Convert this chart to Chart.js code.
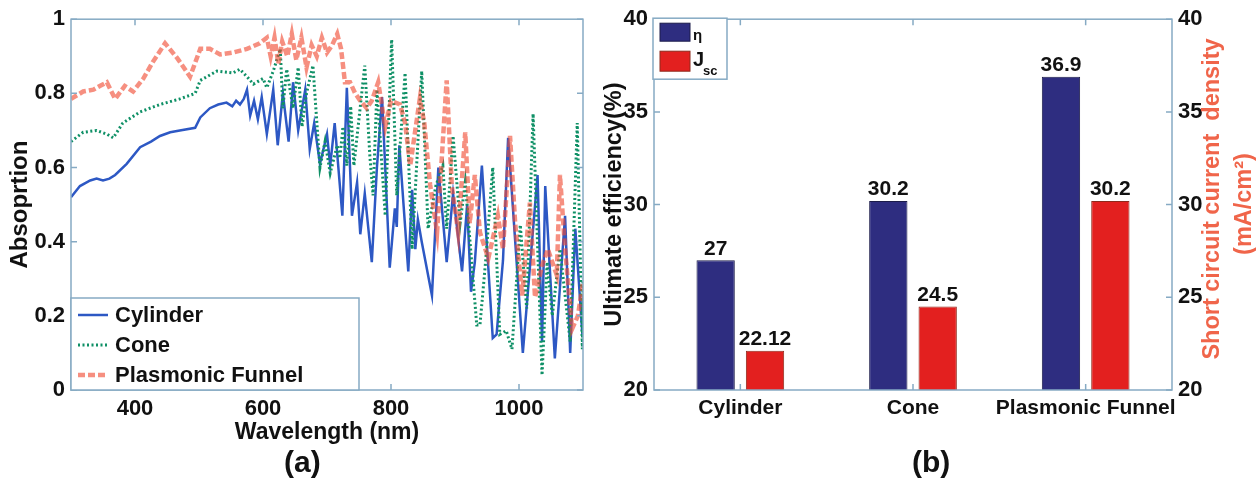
<!DOCTYPE html>
<html>
<head>
<meta charset="utf-8">
<script src="https://cdn.jsdelivr.net/npm/chart.js@4.4.1/dist/chart.umd.min.js"></script>
<style>
  body { margin: 0; background: #fff; width: 1260px; height: 483px; position: relative; overflow: hidden;
         font-family: "Liberation Sans", Arial, sans-serif; }
  #absChart { position: absolute; left: 0; top: 0; }
  #effChart { position: absolute; left: 600px; top: 0; }
  .tag { position: absolute; top: 447px; font-size: 30px; line-height: 30px; font-weight: bold; color: #111; }
</style>
</head>
<body>
<canvas id="absChart" width="600" height="483"></canvas>
<canvas id="effChart" width="660" height="483"></canvas>
<div class="tag" style="left:284px">(a)</div>
<div class="tag" style="left:912px">(b)</div>

<script>
// (a) absorption spectra
const cylWl = [300, 314, 330, 340, 350, 360, 369, 387, 408, 425, 439, 455, 470, 494, 502, 517, 530, 543, 552, 558,
  564, 570, 575, 580, 586, 592, 598, 606, 616, 623, 631, 640, 647, 655, 666, 673, 680, 689, 700, 705,
  712, 724, 731, 739, 747, 752, 759, 770, 778, 786, 798, 806, 809, 813, 827, 833, 838, 842, 848, 864,
  874, 887, 897, 911, 919, 925, 931, 942, 959, 965, 975, 983, 1006, 1029, 1036, 1041, 1056, 1072, 1080, 1088,
  1099, 1100];
const cylAbs = [0.52, 0.55, 0.565, 0.57, 0.565, 0.57, 0.58, 0.61, 0.655, 0.67, 0.685, 0.695, 0.70, 0.707, 0.735, 0.76, 0.77, 0.775, 0.765, 0.78,
  0.77, 0.785, 0.81, 0.74, 0.78, 0.73, 0.79, 0.69, 0.81, 0.66, 0.80, 0.67, 0.83, 0.70, 0.81, 0.65, 0.72, 0.61, 0.69, 0.605,
  0.72, 0.47, 0.815, 0.47, 0.56, 0.42, 0.53, 0.345, 0.60, 0.79, 0.33, 0.49, 0.44, 0.66, 0.32, 0.54, 0.38, 0.46, 0.40, 0.255,
  0.60, 0.345, 0.53, 0.32, 0.50, 0.265, 0.345, 0.605, 0.14, 0.15, 0.35, 0.68, 0.10, 0.58, 0.13, 0.55, 0.085, 0.47, 0.10, 0.435,
  0.15, 0.25];

const coneWl = [300, 319, 340, 356, 366, 381, 408, 439, 470, 494, 502, 528, 553, 564, 575, 585, 600, 606, 616, 627,
  631, 637, 647, 655, 661, 668, 678, 689, 697, 705, 716, 720, 725, 731, 737, 742, 759, 767, 772, 778,
  791, 801, 809, 822, 833, 848, 858, 870, 881, 887, 897, 908, 916, 934, 939, 948, 959, 970, 980, 989,
  1002, 1012, 1022, 1036, 1044, 1052, 1064, 1080, 1091, 1099, 1100];
const coneAbs = [0.67, 0.695, 0.70, 0.69, 0.68, 0.72, 0.75, 0.77, 0.785, 0.80, 0.835, 0.86, 0.855, 0.865, 0.845, 0.825, 0.84, 0.815, 0.86, 0.92,
  0.76, 0.865, 0.76, 0.87, 0.71, 0.80, 0.875, 0.60, 0.67, 0.585, 0.66, 0.625, 0.71, 0.605, 0.765, 0.605, 0.875, 0.63, 0.525, 0.81,
  0.47, 0.945, 0.525, 0.855, 0.38, 0.86, 0.435, 0.55, 0.605, 0.435, 0.685, 0.45, 0.56, 0.175, 0.175, 0.35, 0.60, 0.15, 0.16, 0.11,
  0.445, 0.22, 0.745, 0.04, 0.345, 0.20, 0.38, 0.13, 0.72, 0.11, 0.30];

const funWl = [300, 319, 335, 345, 356, 369, 384, 397, 413, 428, 447, 466, 486, 502, 517, 533, 553, 575, 595, 606,
  612, 618, 624, 630, 638, 645, 652, 660, 668, 676, 684, 692, 700, 708, 716, 722, 728, 736, 744, 752,
  762, 770, 780, 791, 800, 814, 822, 830, 845, 852, 861, 872, 887, 895, 905, 916, 923, 931, 939, 952,
  967, 975, 986, 994, 1005, 1017, 1025, 1036, 1045, 1059, 1064, 1072, 1083, 1092, 1100];
const funAbs = [0.785, 0.805, 0.81, 0.82, 0.83, 0.785, 0.82, 0.805, 0.84, 0.885, 0.935, 0.895, 0.845, 0.92, 0.92, 0.905, 0.91, 0.92, 0.935, 0.95,
  0.90, 0.95, 0.88, 0.94, 0.90, 0.96, 0.89, 0.95, 0.87, 0.93, 0.90, 0.95, 0.91, 0.93, 0.96, 0.92, 0.83, 0.83, 0.80, 0.78,
  0.76, 0.78, 0.83, 0.71, 0.78, 0.77, 0.72, 0.605, 0.785, 0.72, 0.555, 0.425, 0.835, 0.55, 0.425, 0.695, 0.45, 0.58, 0.425, 0.355,
  0.47, 0.38, 0.685, 0.45, 0.255, 0.505, 0.25, 0.335, 0.38, 0.31, 0.58, 0.38, 0.165, 0.20, 0.29];

const absTicksX = [400, 600, 800, 1000];
const absTicksY = [0, 0.2, 0.4, 0.6, 0.8, 1];

// (b) efficiency and short circuit current
const structures = ['Cylinder', 'Cone', 'Plasmonic Funnel'];
const efficiency = [27, 30.2, 36.9];
const currentDensity = [22.12, 24.5, 30.2];
const effTicks = [20, 25, 30, 35, 40];

const frameColor = '#86aac4';
const titleRed = '#f0654a';
const fontFam = '"Liberation Sans", Arial, sans-serif';

Chart.defaults.font.family = fontFam;
Chart.defaults.font.size = 22;
Chart.defaults.font.weight = 'bold';
Chart.defaults.color = '#111';

const toPoints = (xs, ys) => xs.map((x, i) => ({x: x, y: ys[i]}));
const setTicks = list => scale => { scale.ticks = list.map(v => ({value: v})); };

// box round the plot, matlab style
function drawFrame(ctx, a) {
  ctx.strokeStyle = frameColor;
  ctx.lineWidth = 1.5;
  ctx.strokeRect(a.left, a.top, a.right - a.left, a.bottom - a.top);
}

const absFrame = {
  id: 'absFrame',
  afterDraw(chart) {
    const {ctx, chartArea: a, scales: {x, y}} = chart;
    ctx.save();
    drawFrame(ctx, a);
    ctx.beginPath();
    absTicksX.forEach(v => {
      const px = x.getPixelForValue(v);
      ctx.moveTo(px, a.bottom); ctx.lineTo(px, a.bottom - 6);
      ctx.moveTo(px, a.top); ctx.lineTo(px, a.top + 6);
    });
    absTicksY.forEach(v => {
      const py = y.getPixelForValue(v);
      ctx.moveTo(a.left, py); ctx.lineTo(a.left + 6, py);
      ctx.moveTo(a.right, py); ctx.lineTo(a.right - 6, py);
    });
    ctx.stroke();

    // legend box, bottom left
    const lx = a.left, ly = 298, lw = 288, lh = a.bottom - ly;
    ctx.fillStyle = '#fff';
    ctx.fillRect(lx, ly, lw, lh);
    ctx.strokeRect(lx, ly, lw, lh);
    chart.data.datasets.forEach((ds, i) => {
      const rowY = 315 + i * 30;
      ctx.beginPath();
      ctx.strokeStyle = ds.borderColor;
      ctx.lineWidth = ds.borderWidth;
      ctx.setLineDash(ds.borderDash || []);
      ctx.moveTo(lx + 7, rowY); ctx.lineTo(lx + 37, rowY);
      ctx.stroke();
      ctx.setLineDash([]);
      ctx.fillStyle = '#111';
      ctx.font = 'bold 22px ' + fontFam;
      ctx.textBaseline = 'middle';
      ctx.fillText(ds.label, lx + 44, rowY + 1);
    });
    ctx.restore();
  }
};

new Chart(document.getElementById('absChart'), {
  type: 'line',
  data: {
    datasets: [
      {label: 'Cylinder', data: toPoints(cylWl, cylAbs), borderColor: '#2d58c4', borderWidth: 2.5, order: 3},
      {label: 'Cone', data: toPoints(coneWl, coneAbs), borderColor: '#0f9066', borderWidth: 3, borderDash: [2, 2.5], order: 2},
      {label: 'Plasmonic Funnel', data: toPoints(funWl, funAbs), borderColor: 'rgba(240,75,50,0.62)', borderWidth: 4.5, borderDash: [7, 3], order: 1}
    ]
  },
  options: {
    responsive: false,
    animation: false,
    devicePixelRatio: 1,
    layout: {padding: {top: 18, right: 17, left: 0, bottom: 0}},
    elements: {point: {radius: 0}, line: {tension: 0}},
    plugins: {legend: {display: false}, tooltip: {enabled: false}},
    scales: {
      x: {
        type: 'linear', min: 300, max: 1100,
        afterBuildTicks: setTicks(absTicksX),
        grid: {display: false, drawTicks: false},
        border: {display: false},
        ticks: {padding: 6, maxRotation: 0, callback: v => String(v)},
        title: {display: true, text: 'Wavelength (nm)', font: {size: 23}, padding: {top: 0, bottom: 37}},
        afterFit: s => { s.height = 93; }
      },
      y: {
        min: 0, max: 1,
        afterBuildTicks: setTicks(absTicksY),
        grid: {display: false, drawTicks: false},
        border: {display: false},
        ticks: {padding: 6, callback: v => String(v)},
        title: {display: true, text: 'Absoprtion', font: {size: 24}, padding: {top: 6, bottom: 0}},
        afterFit: s => { s.width = 71; }
      }
    }
  },
  plugins: [absFrame]
});

const effDecor = {
  id: 'effDecor',
  afterDatasetsDraw(chart) {
    const {ctx} = chart;
    ctx.save();
    ctx.fillStyle = '#111';
    ctx.font = 'bold 21px ' + fontFam;
    ctx.textAlign = 'center';
    ctx.textBaseline = 'bottom';
    chart.data.datasets.forEach((ds, i) => {
      chart.getDatasetMeta(i).data.forEach((bar, j) => {
        ctx.fillText(String(ds.data[j]), bar.x, bar.y - 1);
      });
    });
    ctx.restore();
  },
  afterDraw(chart) {
    const {ctx, chartArea: a, scales: {x, y, y1}} = chart;
    ctx.save();
    drawFrame(ctx, a);
    ctx.beginPath();
    structures.forEach((c, i) => {
      const px = x.getPixelForValue(i);
      ctx.moveTo(px, a.bottom); ctx.lineTo(px, a.bottom - 6);
      ctx.moveTo(px, a.top); ctx.lineTo(px, a.top + 6);
    });
    effTicks.forEach(v => {
      ctx.moveTo(a.left, y.getPixelForValue(v)); ctx.lineTo(a.left + 6, y.getPixelForValue(v));
      ctx.moveTo(a.right, y1.getPixelForValue(v)); ctx.lineTo(a.right - 6, y1.getPixelForValue(v));
    });
    ctx.stroke();

    // legend, top left
    const bx = a.left - 1, by = a.top - 1;
    ctx.fillStyle = '#fff';
    ctx.fillRect(bx, by, 74, 61);
    ctx.strokeRect(bx, by, 74, 61);
    const ds = chart.data.datasets;
    ctx.fillStyle = ds[0].backgroundColor;
    ctx.fillRect(bx + 7, by + 5, 30, 18);
    ctx.strokeStyle = ds[0].borderColor; ctx.lineWidth = 1;
    ctx.strokeRect(bx + 7, by + 5, 30, 18);
    ctx.fillStyle = ds[1].backgroundColor;
    ctx.fillRect(bx + 7, by + 33, 30, 20);
    ctx.strokeStyle = ds[1].borderColor;
    ctx.strokeRect(bx + 7, by + 33, 30, 20);
    ctx.fillStyle = '#111';
    ctx.textBaseline = 'alphabetic';
    ctx.font = 'bold 15px ' + fontFam;
    ctx.fillText('η', bx + 40, by + 22);
    ctx.font = 'bold 20px ' + fontFam;
    ctx.fillText('J', bx + 40, by + 48);
    ctx.font = 'bold 13px ' + fontFam;
    ctx.fillText('sc', bx + 50, by + 57);

    // right axis title, reads bottom to top
    ctx.fillStyle = titleRed;
    ctx.font = 'bold 23.5px ' + fontFam;
    ctx.textAlign = 'center';
    ctx.textBaseline = 'middle';
    ctx.translate(613, 199);
    ctx.rotate(-Math.PI / 2);
    ctx.fillText('Short circuit current  density', 0, 0);
    ctx.fillText('(mA/cm²)', -5, 32);
    ctx.restore();
  }
};

new Chart(document.getElementById('effChart'), {
  type: 'bar',
  data: {
    labels: structures,
    datasets: [
      {label: 'η', data: efficiency, yAxisID: 'y', backgroundColor: '#2e2d80', borderColor: '#1c1c4a', borderWidth: 1,
       categoryPercentage: 0.572, barPercentage: 0.776},
      {label: 'Jsc', data: currentDensity, yAxisID: 'y1', backgroundColor: '#e3201f', borderColor: '#8e2a1c', borderWidth: 1,
       categoryPercentage: 0.572, barPercentage: 0.776}
    ]
  },
  options: {
    responsive: false,
    animation: false,
    devicePixelRatio: 1,
    layout: {padding: {top: 18, right: 0, left: 0, bottom: 0}},
    plugins: {legend: {display: false}, tooltip: {enabled: false}},
    scales: {
      x: {
        grid: {display: false, drawTicks: false},
        border: {display: false},
        ticks: {padding: 6, maxRotation: 0, minRotation: 0, autoSkip: false, font: {size: 21}},
        afterFit: s => { s.height = 93; }
      },
      y: {
        position: 'left', min: 20, max: 40,
        afterBuildTicks: setTicks(effTicks),
        grid: {display: false, drawTicks: false},
        border: {display: false},
        ticks: {padding: 6},
        title: {display: true, text: 'Ultimate efficiency(%)', font: {size: 23.5}, padding: {top: 0, bottom: 0}},
        afterFit: s => { s.width = 54; }
      },
      y1: {
        position: 'right', min: 20, max: 40,
        afterBuildTicks: setTicks(effTicks),
        grid: {display: false, drawTicks: false},
        border: {display: false},
        ticks: {padding: 6},
        afterFit: s => { s.width = 88; }
      }
    }
  },
  plugins: [effDecor]
});
</script>
</body>
</html>
